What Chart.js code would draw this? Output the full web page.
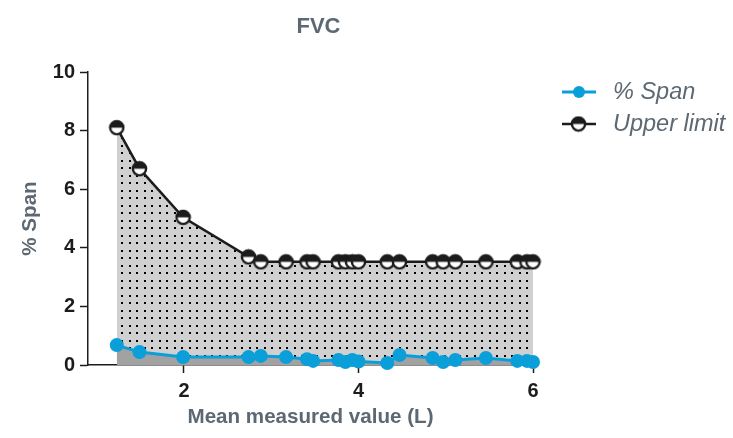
<!DOCTYPE html>
<html>
<head>
<meta charset="utf-8">
<script src="https://cdn.jsdelivr.net/npm/chart.js@4.4.1/dist/chart.umd.min.js"></script>
<style>
  html, body { margin: 0; padding: 0; background: #ffffff; }
  #wrap { width: 733px; height: 438px; position: relative; }
</style>
</head>
<body>
<div id="wrap"><canvas id="fvc" width="733" height="438"></canvas></div>
<script>
// Mean measured FVC (L) for each subject
const meanValues = [1.23, 1.49, 1.99, 2.74, 2.88, 3.17, 3.41, 3.48, 3.77, 3.85, 3.93, 4.00, 4.33, 4.47, 4.85, 4.97, 5.11, 5.46, 5.82, 5.93, 6.00];
// Measured span as % of mean value
const spanPct = [0.68, 0.44, 0.27, 0.27, 0.31, 0.27, 0.20, 0.14, 0.17, 0.10, 0.17, 0.12, 0.07, 0.34, 0.24, 0.10, 0.17, 0.24, 0.14, 0.14, 0.10];
// Acceptability upper limit of the span
const upperLimit = [8.10, 6.70, 5.04, 3.69, 3.52, 3.52, 3.52, 3.52, 3.52, 3.52, 3.52, 3.52, 3.52, 3.52, 3.52, 3.52, 3.52, 3.52, 3.52, 3.52, 3.52];
const xTickValues = [2, 4, 6];
const yTickValues = [0, 2, 4, 6, 8, 10];

const seriesNames = ['% Span', 'Upper limit'];
const titleText = 'FVC';
const xTitle = 'Mean measured value (L)';
const yTitle = '% Span';

const BLUE = '#0a9fd9';
const DARK = '#1c1c1c';
const GREYTEXT = '#5d6872';
const FONT = '"Liberation Sans", Arial, sans-serif';

// Light grey tile with small black dots for the upper-limit area
function dottedPattern() {
  const c = document.createElement('canvas');
  c.width = 15; c.height = 15;
  const g = c.getContext('2d');
  g.fillStyle = '#d0d0d0';
  g.fillRect(0, 0, 15, 15);
  g.fillStyle = '#000000';
  [[1, 2], [9, 2], [1, 10], [9, 10]].forEach(([x, y]) => g.fillRect(x, y, 2, 2));
  return g.createPattern(c, 'repeat');
}

// Circle marker: top half filled, bottom half open
function halfMarker() {
  const c = document.createElement('canvas');
  c.width = 17; c.height = 17;
  const g = c.getContext('2d');
  const cx = 8.5, cy = 8.5, r = 6.6;
  g.fillStyle = '#ffffff';
  g.beginPath(); g.arc(cx, cy, r, 0, Math.PI * 2); g.fill();
  g.fillStyle = DARK;
  g.beginPath(); g.arc(cx, cy, r, Math.PI, Math.PI * 2); g.closePath(); g.fill();
  g.strokeStyle = DARK; g.lineWidth = 2.4;
  g.beginPath(); g.arc(cx, cy, r, 0, Math.PI * 2); g.stroke();
  return c;
}

const marker = halfMarker();
const ctx = document.getElementById('fvc').getContext('2d');

const toPoints = (ys) => meanValues.map((x, i) => ({ x: x, y: ys[i] }));

const titleAndLegend = {
  id: 'titleAndLegend',
  afterDraw(chart) {
    const g = chart.ctx;
    const a = chart.chartArea;
    g.save();
    g.fillStyle = GREYTEXT;
    g.font = 'bold 22px ' + FONT;
    g.textAlign = 'center';
    g.textBaseline = 'middle';
    g.fillText(titleText, (a.left + a.right) / 2 + 8, 27);

    const rows = [
      { name: seriesNames[0], y: 92, color: BLUE, img: null },
      { name: seriesNames[1], y: 124, color: DARK, img: marker }
    ];
    rows.forEach(r => {
      g.strokeStyle = r.color;
      g.lineWidth = r.img ? 2.5 : 3;
      g.beginPath(); g.moveTo(562, r.y); g.lineTo(596, r.y); g.stroke();
      if (r.img) {
        g.drawImage(r.img, 578.5 - 8.5, r.y - 8.5);
      } else {
        g.fillStyle = r.color;
        g.beginPath(); g.arc(579, r.y, 6, 0, Math.PI * 2); g.fill();
      }
      g.fillStyle = GREYTEXT;
      g.font = 'italic 23.5px ' + FONT;
      g.textAlign = 'left';
      g.textBaseline = 'middle';
      g.fillText(r.name, 613, r.y);
    });
    g.restore();
  }
};

new Chart(ctx, {
  type: 'line',
  data: {
    datasets: [
      {
        label: seriesNames[0],
        data: toPoints(spanPct),
        borderColor: BLUE,
        backgroundColor: '#a2a2a2',
        borderWidth: 3,
        pointRadius: 7,
        pointHoverRadius: 7,
        pointBackgroundColor: BLUE,
        pointBorderColor: BLUE,
        pointBorderWidth: 0,
        tension: 0,
        fill: 'origin',
        clip: false
      },
      {
        label: seriesNames[1],
        data: toPoints(upperLimit),
        borderColor: DARK,
        backgroundColor: dottedPattern(),
        borderWidth: 2.5,
        pointStyle: marker,
        tension: 0,
        fill: 'origin',
        clip: false
      }
    ]
  },
  options: {
    responsive: false,
    animation: false,
    events: [],
    layout: { padding: { top: 72, right: 200, bottom: 0, left: 0 } },
    plugins: {
      legend: { display: false },
      title: { display: false },
      tooltip: { enabled: false }
    },
    scales: {
      x: {
        type: 'linear',
        min: 0.9,
        max: 6,
        afterBuildTicks: (s) => { s.ticks = xTickValues.map(v => ({ value: v })); },
        afterFit: (s) => { s.height = 73; },
        grid: { display: true, drawOnChartArea: false, drawTicks: true, tickLength: 8, tickColor: DARK, tickWidth: 1.5 },
        border: { display: true, color: DARK, width: 1.5 },
        ticks: {
          color: DARK,
          padding: 6,
          font: { family: FONT, size: 20, weight: 'bold' }
        },
        title: {
          display: true,
          text: xTitle,
          color: GREYTEXT,
          padding: { top: 0, bottom: 8 },
          font: { family: FONT, size: 20.6, weight: 'bold' }
        }
      },
      y: {
        min: 0,
        max: 10,
        afterBuildTicks: (s) => { s.ticks = yTickValues.map(v => ({ value: v })); },
        afterFit: (s) => { s.width = 88; },
        grid: { display: true, drawOnChartArea: false, drawTicks: true, tickLength: 8, tickColor: DARK, tickWidth: 1.5 },
        border: { display: true, color: DARK, width: 1.5 },
        ticks: {
          color: DARK,
          padding: 5,
          font: { family: FONT, size: 20, weight: 'bold' }
        },
        title: {
          display: true,
          text: yTitle,
          color: GREYTEXT,
          padding: { top: 18, bottom: 0 },
          font: { family: FONT, size: 20.6, weight: 'bold' }
        }
      }
    }
  },
  plugins: [titleAndLegend]
});
</script>
</body>
</html>
